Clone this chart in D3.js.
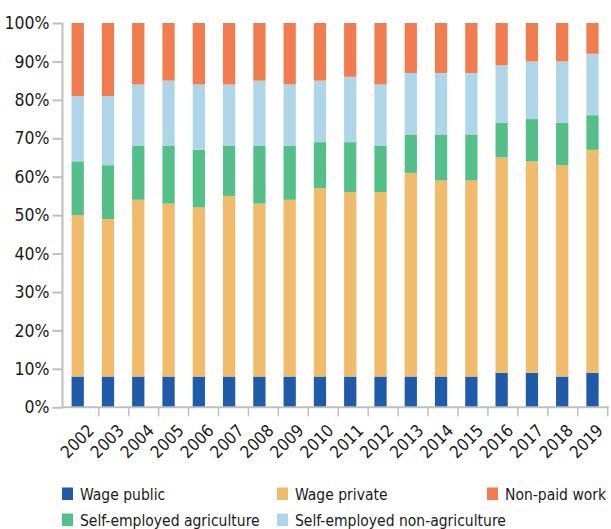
<!DOCTYPE html>
<html>
<head>
<meta charset="utf-8">
<script src="https://cdn.jsdelivr.net/npm/d3@7"></script>
<style>
  html, body { margin: 0; padding: 0; background: #fff; }
  svg { display: block; }
  text { font-family: "DejaVu Sans Condensed", "DejaVu Sans", sans-serif; font-stretch: condensed; fill: #1a1a1a; }
</style>
</head>
<body>
<svg id="chart" width="611" height="529"></svg>
<script>
// Employment structure by year, % of total
const years = ["2002","2003","2004","2005","2006","2007","2008","2009","2010",
               "2011","2012","2013","2014","2015","2016","2017","2018","2019"];
const wagePublic   = [8, 8, 8, 8, 8, 8, 8, 8, 8, 8, 8, 8, 8, 8, 9, 9, 8, 9];
const wagePrivate  = [42, 41, 46, 45, 44, 47, 45, 46, 49, 48, 48, 53, 51, 51, 56, 55, 55, 58];
const selfEmpAgri  = [14, 14, 14, 15, 15, 13, 15, 14, 12, 13, 12, 10, 12, 12, 9, 11, 11, 9];
const selfEmpNonAg = [17, 18, 16, 17, 17, 16, 17, 16, 16, 17, 16, 16, 16, 16, 15, 15, 16, 16];
const nonPaidWork  = [19, 19, 16, 15, 16, 16, 15, 16, 15, 14, 16, 13, 13, 13, 11, 10, 10, 8];
const yTicks = [0, 10, 20, 30, 40, 50, 60, 70, 80, 90, 100];

const seriesNames  = ["Wage public", "Wage private", "Self-employed agriculture",
                      "Self-employed non-agriculture", "Non-paid work"];
const seriesValues = [wagePublic, wagePrivate, selfEmpAgri, selfEmpNonAg, nonPaidWork];
const colors = ["#1f5ba8", "#f0bb6a", "#55bf89", "#aed6e8", "#f07c50"];

const rows = years.map((yr, i) => {
  const r = { year: yr };
  seriesNames.forEach((s, k) => r[s] = seriesValues[k][i]);
  return r;
});

const svg = d3.select("#chart");
const plotLeft = 62.5, plotRight = 607.7, plotTop = 23, plotBottom = 407.3;

const y = d3.scaleLinear().domain([0, 100]).range([plotBottom, plotTop]);
// bar placement
const xBar = d3.scaleBand().domain(years).range([plotLeft, plotRight]).paddingInner(0.595).paddingOuter(0.3);
// category axis (tick marks between categories)
const xAxisScale = d3.scaleBand().domain(years).range([68.8, plotRight]);

const stack = d3.stack().keys(seriesNames);
const layers = stack(rows);

svg.append("g").selectAll("g").data(layers).join("g")
  .attr("fill", (d, i) => colors[i])
  .selectAll("rect").data(d => d).join("rect")
  .attr("x", d => xBar(d.data.year))
  .attr("width", xBar.bandwidth())
  .attr("y", d => y(d[1]))
  .attr("height", d => y(d[0]) - y(d[1]));

// y axis
const yAxis = svg.append("g").attr("transform", `translate(${plotLeft},0)`)
  .call(d3.axisLeft(y).tickValues(yTicks).tickFormat(d => d + "%").tickSize(10).tickPadding(3));
yAxis.attr("font-family", null);
yAxis.select(".domain").attr("stroke", "#bfbfbf").attr("stroke-width", 2)
  .attr("d", `M0,${plotTop}V${plotBottom}`);
yAxis.selectAll(".tick line").attr("stroke", "#bfbfbf").attr("stroke-width", 2);
yAxis.selectAll(".tick text").attr("font-size", 17.5).attr("fill", "#1a1a1a");

// x axis line with category boundary ticks
const xg = svg.append("g");
xg.append("line").attr("x1", plotLeft - 1).attr("x2", plotRight + 1)
  .attr("y1", plotBottom).attr("y2", plotBottom)
  .attr("stroke", "#bfbfbf").attr("stroke-width", 2);
xg.selectAll("line.tk").data(years).join("line").attr("class", "tk")
  .attr("x1", d => xAxisScale(d) + xAxisScale.step())
  .attr("x2", d => xAxisScale(d) + xAxisScale.step())
  .attr("y1", plotBottom).attr("y2", plotBottom + 9)
  .attr("stroke", "#bfbfbf").attr("stroke-width", 1.5);
xg.selectAll("text").data(years).join("text")
  .attr("transform", d => `translate(${xAxisScale(d) + xAxisScale.bandwidth() / 2 + 3},${plotBottom + 16}) rotate(-45)`)
  .attr("text-anchor", "end")
  .attr("dy", "0.7em")
  .attr("font-size", 17)
  .text(d => d);

// legend: three columns, two rows
const legendPos = {
  "Wage public": [62, 494],
  "Wage private": [277, 494],
  "Non-paid work": [487, 494],
  "Self-employed agriculture": [62, 520],
  "Self-employed non-agriculture": [277, 520]
};
const lg = svg.append("g").selectAll("g").data(seriesNames).join("g")
  .attr("transform", d => `translate(${legendPos[d][0]},${legendPos[d][1]})`);
lg.append("rect").attr("x", 0).attr("y", -6.5).attr("width", 11).attr("height", 12.5)
  .attr("fill", (d, i) => colors[i]);
lg.append("text").attr("x", 18).attr("dy", "0.36em").attr("font-size", 15.5).text(d => d);
</script>
</body>
</html>
